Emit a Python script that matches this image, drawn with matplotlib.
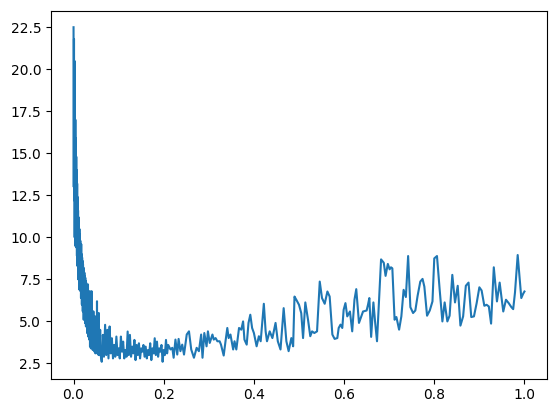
import matplotlib
matplotlib.use("Agg")
import matplotlib.pyplot as plt

# Segment 1: steep initial decay (dense region)
x1 = [0.0000, 0.0005, 0.0010, 0.0015, 0.0020, 0.0025, 0.0030, 0.0035, 0.0040, 0.0045,
      0.0050, 0.0055, 0.0060, 0.0065, 0.0070, 0.0075, 0.0080, 0.0085, 0.0090, 0.0095,
      0.0100, 0.0105, 0.0110, 0.0115, 0.0120, 0.0125, 0.0130, 0.0135, 0.0140, 0.0145,
      0.0150, 0.0155, 0.0160, 0.0165, 0.0170, 0.0175, 0.0180, 0.0185, 0.0190, 0.0195,
      0.0200, 0.0205, 0.0210, 0.0215, 0.0220, 0.0225, 0.0230, 0.0235, 0.0240, 0.0245,
      0.0250, 0.0255, 0.0260, 0.0265, 0.0270, 0.0275, 0.0280, 0.0285, 0.0290, 0.0295,
      0.0300, 0.0305, 0.0310, 0.0315, 0.0320, 0.0325, 0.0330, 0.0335, 0.0340, 0.0345,
      0.0350, 0.0355, 0.0360, 0.0365, 0.0370, 0.0375, 0.0380, 0.0385, 0.0390, 0.0395,
      0.0400, 0.0405, 0.0410, 0.0415, 0.0420, 0.0425, 0.0430, 0.0435, 0.0440, 0.0445,
      0.0450, 0.0455, 0.0460, 0.0465, 0.0470, 0.0475, 0.0480, 0.0485, 0.0490, 0.0495,
      0.0500, 0.0505, 0.0510, 0.0515, 0.0520, 0.0525, 0.0530, 0.0535, 0.0540, 0.0545,
      0.0550, 0.0555, 0.0560, 0.0565, 0.0570, 0.0575, 0.0580, 0.0585, 0.0590, 0.0595]
y1 = [22.5, 13.0, 21.8, 12.2, 20.5, 10.0, 18.8, 9.5, 17.0, 11.0,
      15.9, 9.8, 14.8, 9.4, 14.0, 8.9, 13.2, 8.3, 12.4, 8.6,
      11.6, 7.5, 11.2, 8.0, 10.8, 6.9, 10.5, 7.2, 10.2, 7.8,
      9.8, 6.8, 9.4, 6.4, 9.6, 6.7, 9.0, 6.0, 8.8, 6.3,
      8.6, 5.6, 8.4, 5.9, 8.2, 5.1, 8.0, 5.5, 7.9, 5.4,
      7.7, 4.9, 7.6, 5.2, 7.4, 4.7, 7.3, 5.0, 6.9, 4.9,
      6.6, 4.3, 7.0, 4.6, 7.2, 4.1, 6.4, 4.4, 6.1, 4.5,
      6.5, 3.9, 6.8, 3.5, 6.0, 3.8, 5.8, 3.4, 6.2, 3.7,
      6.8, 3.9, 5.6, 3.5, 5.2, 3.3, 5.4, 3.7, 5.6, 3.6,
      5.0, 3.4, 4.9, 3.2, 5.1, 3.5, 5.3, 3.1, 4.8, 3.3,
      4.6, 3.4, 5.0, 3.2, 6.2, 3.1, 4.7, 3.3, 4.4, 3.5,
      4.8, 3.0, 5.5, 3.0, 4.3, 3.2, 4.1, 3.3, 4.5, 3.1]

# Segment 2: low plateau
x2 = [0.0625, 0.065, 0.0675, 0.07, 0.0725, 0.075, 0.0775, 0.08,
      0.0825, 0.085, 0.0875, 0.09, 0.0925, 0.095, 0.0975, 0.1,
      0.1025, 0.105, 0.1075, 0.11, 0.1125, 0.115, 0.1175, 0.12,
      0.1225, 0.125, 0.1275, 0.13, 0.1325, 0.135, 0.1375, 0.14,
      0.1425, 0.145, 0.1475, 0.15, 0.1525, 0.155, 0.1575, 0.16,
      0.1625, 0.165, 0.1675, 0.17, 0.1725, 0.175, 0.1775, 0.18,
      0.1825, 0.185, 0.1875, 0.19, 0.1925, 0.195, 0.1975, 0.2,
      0.2025, 0.205, 0.2075, 0.21]
y2 = [2.6, 4.2, 2.9, 4.8, 3.0, 4.5, 2.8, 4.7,
      3.1, 4.0, 2.8, 3.6, 2.9, 4.1, 3.0, 3.4,
      2.8, 4.1, 3.2, 3.8, 2.8, 3.3, 2.9, 4.4,
      3.0, 4.2, 2.9, 3.5, 3.1, 3.9, 2.7, 3.6,
      3.0, 3.7, 2.8, 3.4, 3.2, 3.6, 2.9, 3.5,
      2.8, 3.3, 3.0, 3.7, 2.7, 3.4, 3.1, 4.0,
      3.0, 3.8, 2.9, 3.4, 3.2, 3.6, 2.6, 3.3,
      3.0, 3.9, 3.1, 3.6]

# Segment 3: slow rise
x3 = [0.215, 0.219, 0.222, 0.226, 0.230, 0.233, 0.237, 0.241, 0.245, 0.251,
      0.256, 0.261, 0.267, 0.273, 0.278, 0.283, 0.286, 0.290, 0.295, 0.298,
      0.302, 0.308, 0.311, 0.315, 0.319, 0.324, 0.327, 0.333, 0.337, 0.341,
      0.344, 0.348, 0.354, 0.357, 0.361, 0.367, 0.372, 0.376, 0.379, 0.384,
      0.388, 0.392, 0.396, 0.400, 0.406, 0.411, 0.415, 0.422, 0.426, 0.429,
      0.435, 0.441, 0.448, 0.453, 0.459, 0.466, 0.472, 0.477, 0.483, 0.487,
      0.490, 0.494, 0.500, 0.505, 0.509, 0.514, 0.520, 0.525, 0.529, 0.534,
      0.540, 0.546, 0.551, 0.557, 0.563, 0.568, 0.574, 0.579, 0.585, 0.588,
      0.592, 0.596, 0.599, 0.603, 0.607, 0.613, 0.618, 0.623, 0.627, 0.633]
y3 = [3.33, 3.43, 2.84, 3.92, 3.03, 3.96, 3.23, 3.62, 3.03, 4.22,
      4.41, 3.33, 2.84, 3.43, 3.23, 4.22, 2.84, 4.31, 3.52, 4.41,
      3.72, 4.22, 3.92, 4.01, 3.82, 3.82, 3.62, 2.97, 3.82, 4.61,
      4.01, 4.22, 3.33, 3.82, 3.33, 4.61, 4.51, 5.00, 3.92, 3.62,
      4.91, 5.40, 4.61, 4.31, 3.52, 4.12, 3.82, 6.05, 4.41, 3.82,
      4.41, 4.01, 4.91, 3.82, 3.33, 5.79, 3.82, 3.23, 4.01, 3.52,
      6.48, 6.29, 5.99, 5.49, 4.01, 6.13, 5.10, 4.12, 4.41, 4.31,
      4.41, 7.37, 6.39, 6.05, 6.78, 6.48, 4.22, 3.96, 4.01, 4.61,
      4.81, 4.61, 5.69, 6.09, 5.30, 5.59, 4.41, 6.29, 6.92, 4.91]

# Segment 4: noisy high tail
x4 = [0.642, 0.650, 0.653, 0.656, 0.660, 0.665, 0.669, 0.673, 0.682, 0.688,
      0.692, 0.697, 0.701, 0.704, 0.707, 0.712, 0.716, 0.722, 0.727, 0.732,
      0.737, 0.742, 0.747, 0.753, 0.758, 0.763, 0.769, 0.774, 0.778, 0.784,
      0.790, 0.796, 0.800, 0.806, 0.812, 0.818, 0.823, 0.829, 0.834, 0.840,
      0.846, 0.852, 0.858, 0.864, 0.870, 0.876, 0.882, 0.888, 0.894, 0.900,
      0.905, 0.911, 0.916, 0.921, 0.926, 0.932, 0.939, 0.945, 0.953, 0.959,
      0.965, 0.971, 0.975, 0.979, 0.985, 0.993, 0.997, 1.000]
y4 = [5.59, 5.65, 5.99, 6.39, 4.08, 6.13, 4.90, 3.82, 8.69, 8.49,
      7.71, 8.42, 8.10, 8.22, 8.16, 5.10, 5.26, 4.51, 5.30, 6.88,
      6.45, 8.89, 5.85, 5.50, 5.65, 6.52, 7.37, 7.53, 7.07, 5.34,
      5.65, 6.19, 8.75, 8.89, 6.88, 5.00, 6.13, 5.00, 5.34, 7.77,
      6.13, 7.12, 4.75, 5.30, 7.12, 7.31, 5.26, 5.30, 6.09, 7.03,
      6.84, 5.93, 5.99, 5.89, 4.87, 8.22, 6.19, 7.31, 5.59, 6.29,
      6.09, 5.85, 5.73, 6.72, 8.95, 6.39, 6.64, 6.78]

xs = x1 + x2 + x3 + x4
ys = y1 + y2 + y3 + y4

fig = plt.figure(figsize=(5.56, 4.13), dpi=100)
ax = fig.add_axes([51 / 556, 34.5 / 413, 496 / 556, 368 / 413])
ax.plot(xs, ys, color="#1f77b4", linewidth=1.5)
fig.savefig("out.png", dpi=100)
